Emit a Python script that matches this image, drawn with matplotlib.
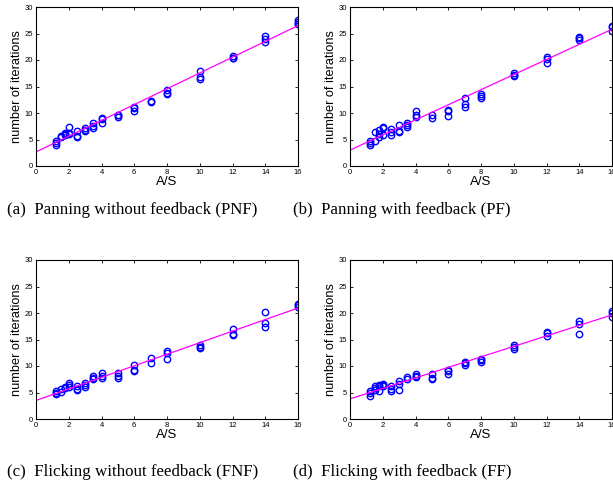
import numpy as np
from matplotlib import pyplot as plt

plt.rcParams['font.family'] = ['Liberation Sans', 'DejaVu Sans']

# A/S ratios tested
ratios = [1.25, 1.5, 1.75, 2, 2.5, 3, 3.5, 4, 5, 6, 7, 8, 10, 12, 14, 16]

# iterations per ratio (several participants each)
pnf = [[4.0, 4.3, 4.8], [5.5, 5.6], [5.8, 6.1, 6.2], [6.1, 6.3, 7.4],
       [5.4, 5.7, 6.6], [6.6, 6.8, 7.1], [7.1, 7.6, 8.1], [8.2, 8.9, 9.1],
       [9.3, 9.6, 9.7], [10.3, 10.9, 11.2], [12.1, 12.2], [13.5, 13.7, 14.4],
       [16.5, 16.7, 17.9], [20.3, 20.4, 20.7], [23.4, 24.0, 24.6],
       [26.7, 26.8, 27.1, 27.5]]
pf = [[3.9, 4.4, 4.7], [4.7, 6.4], [5.4, 6.1, 6.8], [5.8, 7.1, 7.3],
      [5.9, 6.4, 6.9], [6.4, 6.6, 7.8], [7.3, 7.7, 8.1], [9.3, 9.6, 10.4],
      [9.0, 9.7], [9.4, 10.4, 10.5], [11.2, 11.7, 12.9], [12.9, 13.2, 13.5],
      [17.0, 17.2, 17.5], [19.5, 20.2, 20.5], [23.8, 24.2, 24.4],
      [25.4, 26.2, 26.5]]
fnf = [[4.65, 5.0, 5.35], [5.15, 5.6], [5.8, 6.1], [6.1, 6.5, 6.85],
       [5.4, 5.6, 6.2], [6.1, 6.4, 6.85], [7.5, 7.8, 8.1], [7.7, 8.2, 8.6],
       [7.8, 8.1, 8.7], [9.1, 9.25, 10.1], [10.5, 11.6], [11.4, 12.4, 12.9],
       [13.4, 13.6, 14.0], [15.85, 16.0, 17.0], [17.4, 18.2, 20.1],
       [21.2, 21.5, 21.7]]
ff = [[4.4, 5.0, 5.2], [5.5, 5.85, 6.15], [5.2, 6.15, 6.45], [6.15, 6.45, 6.6],
      [5.35, 5.65, 6.15], [5.5, 6.6, 7.2], [7.5, 7.85], [7.9, 8.2, 8.55],
      [7.5, 7.8, 8.55], [8.55, 9.0, 9.3], [10.1, 10.55, 10.8], [10.7, 11.05, 11.4],
      [13.2, 13.55, 13.9], [15.7, 16.2, 16.5], [16.0, 17.95, 18.4],
      [19.3, 20.0, 20.3]]

# fitted line (intercept, slope) as drawn in each panel
fits = [(2.65, 1.49), (3.0, 1.425), (3.5, 1.09), (3.8, 0.99)]

captions = ["(a)  Panning without feedback (PNF)",
            "(b)  Panning with feedback (PF)",
            "(c)  Flicking without feedback (FNF)",
            "(d)  Flicking with feedback (FF)"]

fig = plt.figure(figsize=(6.13, 4.82), dpi=100)

W, H = 613.0, 482.0
boxes = [(36, 7), (350, 7), (36, 260), (350, 260)]  # left, top in pixels
cap_pos = [(7, 210), (293, 210), (7, 472), (293, 472)]
datasets = [pnf, pf, fnf, ff]

for i in range(4):
    left, top = boxes[i]
    ax = fig.add_axes([left / W, 1 - (top + 159) / H, 262 / W, 159 / H])
    xs = []
    ys = []
    for r, vals in zip(ratios, datasets[i]):
        xs += [r] * len(vals)
        ys += vals
    ax.plot(xs, ys, 'o', mfc='none', mec='#0000ff', ms=4.6, mew=1.0)
    b, m = fits[i]
    line_x = np.array([0, 16])
    ax.plot(line_x, b + m * line_x, color='#ff00ff', lw=0.9)
    ax.set_xlim(0, 16)
    ax.set_ylim(0, 30)
    ax.set_xticks(range(0, 17, 2))
    ax.set_yticks(range(0, 31, 5))
    ax.tick_params(direction='in', top=True, right=True, labelsize=5.5,
                   length=2.5, width=0.6, pad=2)
    for s in ax.spines.values():
        s.set_linewidth(0.8)
    ax.set_xlabel("A/S", fontsize=9.5, labelpad=0)
    ax.set_ylabel("number of iterations", fontsize=9.2, labelpad=1)
    cx, cy = cap_pos[i]
    fig.text(cx / W, 1 - cy / H, captions[i], fontsize=12.2,
             family=['Liberation Serif'], va='center', ha='left')

fig.savefig("out.png", dpi=100)
